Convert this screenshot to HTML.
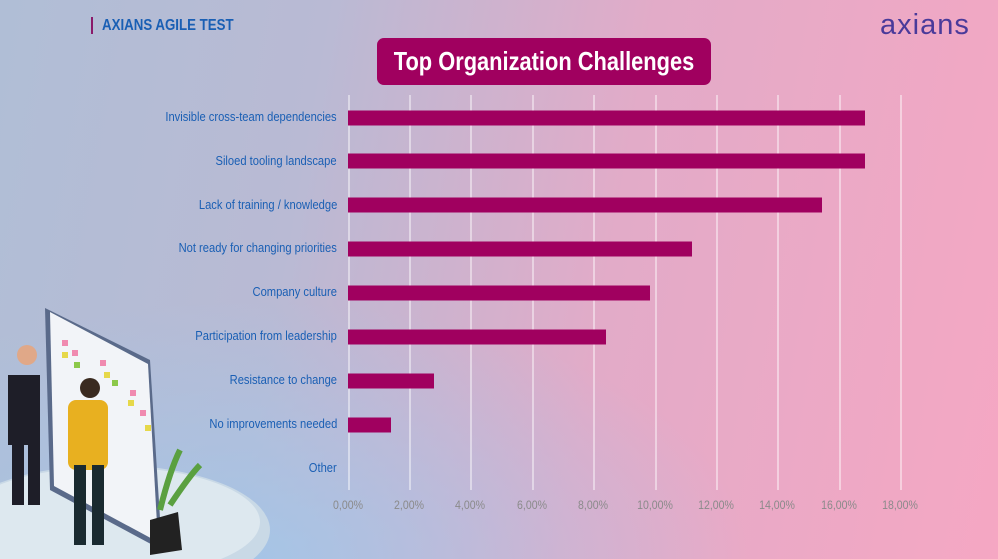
<!DOCTYPE html>
<html><head><style>
html,body{margin:0;width:998px;height:559px;overflow:hidden;font-family:"Liberation Sans",sans-serif;}
.bg{position:absolute;inset:0;background:linear-gradient(100deg,#b0bed6 0%,#b9bad4 30%,#e2abc8 60%,#f5a7c3 100%);}
.bg2{position:absolute;inset:0;background:radial-gradient(ellipse 500px 260px at 250px 560px,rgba(160,200,235,0.8),rgba(160,200,235,0));}
.lbl{position:absolute;right:661px;font-size:12.7px;color:#1a5fb4;white-space:nowrap;transform:translateY(-50%) scaleX(0.88);transform-origin:right center;}
.grid{position:absolute;top:95px;height:395px;width:1.5px;background:rgba(255,255,255,0.45);}
.tick{position:absolute;top:498px;font-size:12px;color:#8a8a8a;white-space:nowrap;transform:translateX(-50%) scaleX(0.88);}
.bar{position:absolute;left:348px;height:15px;background:#a0005f;transform:translateY(-50%);}
</style></head><body>
<div class="bg"></div><div class="bg2"></div>
<div style="position:absolute;left:91px;top:17px;width:2px;height:17px;background:#8a1a6a"></div>
<div style="position:absolute;left:102px;top:17px;font-size:16px;font-weight:bold;color:#1a5fb4;white-space:nowrap;transform:scaleX(0.83);transform-origin:left">AXIANS AGILE TEST</div>
<div style="position:absolute;left:880px;top:9px;font-size:29px;color:#4a3a9a;letter-spacing:1px">axians</div>
<div style="position:absolute;left:377px;top:38px;width:334px;height:47px;background:#a0005f;border-radius:7px;"></div>
<div style="position:absolute;left:294px;top:38px;width:500px;height:47px;color:#fff;font-size:26px;font-weight:bold;text-align:center;line-height:47px;white-space:nowrap;transform:scaleX(0.84)">Top Organization Challenges</div>

<div class="grid" style="left:348px"></div><div class="grid" style="left:409px"></div><div class="grid" style="left:470px"></div><div class="grid" style="left:532px"></div><div class="grid" style="left:593px"></div><div class="grid" style="left:655px"></div><div class="grid" style="left:716px"></div><div class="grid" style="left:777px"></div><div class="grid" style="left:839px"></div><div class="grid" style="left:900px"></div>

<div class="tick" style="left:348px">0,00%</div><div class="tick" style="left:409px">2,00%</div><div class="tick" style="left:470px">4,00%</div><div class="tick" style="left:532px">6,00%</div><div class="tick" style="left:593px">8,00%</div><div class="tick" style="left:655px">10,00%</div><div class="tick" style="left:716px">12,00%</div><div class="tick" style="left:777px">14,00%</div><div class="tick" style="left:839px">16,00%</div><div class="tick" style="left:900px">18,00%</div>

<div class="bar" style="top:118px;width:517px"></div>
<div class="bar" style="top:161px;width:517px"></div>
<div class="bar" style="top:205px;width:474px"></div>
<div class="bar" style="top:249px;width:344px"></div>
<div class="bar" style="top:293px;width:302px"></div>
<div class="bar" style="top:337px;width:258px"></div>
<div class="bar" style="top:381px;width:86px"></div>
<div class="bar" style="top:425px;width:43px"></div>

<div class="lbl" style="top:117px">Invisible cross-team dependencies</div>
<div class="lbl" style="top:161px">Siloed tooling landscape</div>
<div class="lbl" style="top:205px">Lack of training / knowledge</div>
<div class="lbl" style="top:248px">Not ready for changing priorities</div>
<div class="lbl" style="top:292px">Company culture</div>
<div class="lbl" style="top:336px">Participation from leadership</div>
<div class="lbl" style="top:380px">Resistance to change</div>
<div class="lbl" style="top:424px">No improvements needed</div>
<div class="lbl" style="top:468px">Other</div>

<svg style="position:absolute;left:0;top:300px" width="280" height="259">
<ellipse cx="110" cy="230" rx="160" ry="65" fill="#c9d9e6"/>
<ellipse cx="110" cy="222" rx="150" ry="55" fill="#dde8ef"/>
<polygon points="45,8 150,60 162,250 50,190" fill="#5a6a8a"/>
<polygon points="50,12 148,64 158,242 54,186" fill="#f2f4f8"/>
<g fill="#f08ab0"><rect x="62" y="40" width="6" height="6"/><rect x="72" y="50" width="6" height="6"/><rect x="100" y="60" width="6" height="6"/><rect x="130" y="90" width="6" height="6"/><rect x="140" y="110" width="6" height="6"/></g>
<g fill="#e6d84a"><rect x="62" y="52" width="6" height="6"/><rect x="104" y="72" width="6" height="6"/><rect x="128" y="100" width="6" height="6"/><rect x="145" y="125" width="6" height="6"/></g>
<g fill="#8cc84a"><rect x="74" y="62" width="6" height="6"/><rect x="112" y="80" width="6" height="6"/></g>
<rect x="8" y="75" width="32" height="70" fill="#1e1e28"/>
<circle cx="27" cy="55" r="10" fill="#e0a888"/>
<rect x="12" y="145" width="12" height="60" fill="#1e1e28"/><rect x="28" y="145" width="12" height="60" fill="#1e1e28"/>
<rect x="68" y="100" width="40" height="70" rx="8" fill="#e8b020"/>
<circle cx="90" cy="88" r="10" fill="#3a2a20"/>
<rect x="74" y="165" width="12" height="80" fill="#1a2a30"/><rect x="92" y="165" width="12" height="80" fill="#1a2a30"/>
<polygon points="150,220 178,212 182,250 150,255" fill="#222"/>
<path d="M160,210 q10,-40 20,-60 M170,205 q20,-30 30,-40" stroke="#5aa040" stroke-width="6" fill="none"/>
</svg>
</body></html>
